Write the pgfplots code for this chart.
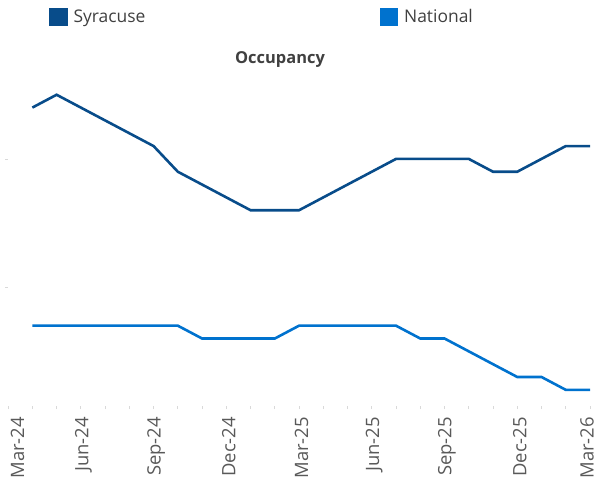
\documentclass[border=0pt]{standalone}
\usepackage{pgfplots}
\pgfplotsset{compat=1.18}
\usepackage{fontspec}
\setmainfont{Open Sans}
\definecolor{syr}{RGB}{8,76,138}
\definecolor{nat}{RGB}{0,114,206}
\definecolor{txt}{RGB}{64,64,64}
\definecolor{lbl}{RGB}{89,89,89}
\definecolor{tk}{RGB}{217,217,217}
\begin{document}
\begin{tikzpicture}
\path[use as bounding box] (0bp,0bp) rectangle (597bp,480bp);
\begin{axis}[
  at={(8.1bp,74bp)}, anchor=south west,
  scale only axis, width=581.9bp, height=336.9bp,
  xmin=0, xmax=24, ymin=50.74, ymax=77,
  axis x line*=bottom, axis y line*=left,
  axis line style={draw=none},
  xtick={0,3,...,24},
  minor xtick={1,2,4,5,7,8,10,11,13,14,16,17,19,20,22,23},
  xticklabels={{\raisebox{-7bp}[\height][\depth]{Mar-24}},Jun-24,Sep-24,Dec-24,Mar-25,Jun-25,Sep-25,Dec-25,{\raisebox{5.5bp}[\height][\depth]{Mar-26}}},
  ytick={60,70}, yticklabels={},
  tick align=outside,
  major tick length=3bp, minor tick length=3bp,
  tick style={color=tk, line width=0.8bp},
  xticklabel style={yshift=-8bp, xshift=2.5bp, rotate=90, anchor=east, font=\fontsize{18.5}{18.5}\selectfont, text=lbl, inner sep=0pt},
  title={Occupancy},
  title style={at={(0.4673,1)}, anchor=base, yshift=-0.3bp, font=\fontsize{16.5}{16.5}\selectfont\bfseries, text=txt, inner sep=0pt},
  legend columns=2,
  legend style={at={(0.0703,1.1556)}, anchor=west, draw=none, fill=none, inner sep=0pt, outer sep=0pt,
    font=\fontsize{17.5}{17.5}\selectfont, text=txt,
    /tikz/every even column/.append style={column sep=234bp},
    nodes={inner sep=0pt, outer sep=0pt}},
  legend image code/.code={\fill[#1] (0bp,-7.6bp) rectangle (16bp,7.6bp);},
  legend cell align=left,
]
\addplot[color=syr, line width=2.6bp] coordinates {
(1,74) (2,75) (3,74) (4,73) (5,72) (6,71) (7,69) (8,68) (9,67) (10,66) (11,66) (12,66)
(13,67) (14,68) (15,69) (16,70) (17,70) (18,70) (19,70) (20,69) (21,69) (22,70) (23,71) (24,71)};
\addlegendentry{\hspace{6bp}Syracuse}
\addplot[color=nat, line width=2.6bp] coordinates {
(1,57) (2,57) (3,57) (4,57) (5,57) (6,57) (7,57) (8,56) (9,56) (10,56) (11,56) (12,57)
(13,57) (14,57) (15,57) (16,57) (17,56) (18,56) (19,55) (20,54) (21,53) (22,53) (23,52) (24,52)};
\addlegendentry{\hspace{6bp}National}
\end{axis}
\end{tikzpicture}
\end{document}
